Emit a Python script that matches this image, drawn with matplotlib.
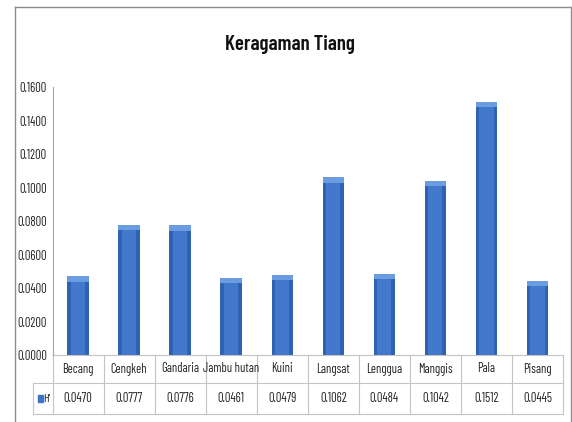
import matplotlib
matplotlib.use("Agg")
import matplotlib.pyplot as plt
from matplotlib import font_manager
from matplotlib.lines import Line2D
from matplotlib.patches import Rectangle
import matplotlib.transforms as mtransforms

categories = ["Becang", "Cengkeh", "Gandaria", "Jambu hutan", "Kuini",
              "Langsat", "Lenggua", "Manggis", "Pala", "Pisang"]
values = [0.0470, 0.0777, 0.0776, 0.0461, 0.0479,
          0.1062, 0.0484, 0.1042, 0.1512, 0.0445]
series_name = "H'"
y_ticks = [0.0, 0.02, 0.04, 0.06, 0.08, 0.10, 0.12, 0.14, 0.16]
title = "Keragaman Tiang"

names = {f.name for f in font_manager.fontManager.ttflist}
main = "Liberation Sans"
for cand in ["Barlow Condensed", "Archivo Narrow", "Asap Condensed"]:
    if cand in names:
        main = cand
        break
plt.rcParams['font.family'] = [main, "DejaVu Sans"]

W, H = 572, 422
fig = plt.figure(figsize=(W / 100, H / 100), dpi=100)
fig.patch.set_facecolor("white")

left, right = 52.5 / W, 563 / W
bottom, top = 1 - 355 / H, 1 - 87.3 / H
ax = fig.add_axes([left, bottom, right - left, top - bottom])
ax.set_xlim(0, len(categories))
ax.set_ylim(0, 0.16)
ax.set_facecolor("white")

x = [i + 0.5 for i in range(len(categories))]
bw = 0.42
ax.bar(x, values, width=bw, color="#2f62b0", edgecolor="none", zorder=2)
ax.bar(x, values, width=bw * 0.66, color="#4379cc", edgecolor="none", zorder=3)
cap = 0.0032
ax.bar(x, [cap] * len(values), bottom=[v - cap for v in values], width=bw,
       color="#6c9ce0", edgecolor="none", zorder=4)

for s in ["top", "right", "bottom"]:
    ax.spines[s].set_visible(False)
ax.spines["left"].set_color("#a6a6a6")
ax.spines["left"].set_linewidth(0.8)
ax.set_xticks([])
ax.set_yticks(y_ticks)
ax.set_yticklabels([f"{t:.4f}" for t in y_ticks], fontsize=9, color="#222222")
ax.tick_params(axis="y", length=0, pad=4)

# data table below the axis
trans = mtransforms.blended_transform_factory(ax.transData, ax.transAxes)
ah = 267.7
r1 = -28 / ah
r2 = -59 / ah
gc = "#c4c4c4"
lw = 0.8
n = len(categories)
key_x = -19.5 / 51.05
ax.add_line(Line2D([key_x, n], [r1, r1], transform=trans, color=gc, lw=lw, clip_on=False))
ax.add_line(Line2D([key_x, n], [r2, r2], transform=trans, color=gc, lw=lw, clip_on=False))
ax.add_line(Line2D([0, n], [0, 0], transform=trans, color=gc, lw=lw, clip_on=False))
for i in range(n + 1):
    ax.add_line(Line2D([i, i], [0, r2], transform=trans, color=gc, lw=lw, clip_on=False))
ax.add_line(Line2D([key_x] * 2, [r1, r2], transform=trans, color=gc, lw=lw, clip_on=False))

for i, (c, v) in enumerate(zip(categories, values)):
    ax.text(i + 0.5, r1 / 2, c, transform=trans, ha="center", va="center",
            fontsize=9, color="#222222", clip_on=False)
    ax.text(i + 0.5, (r1 + r2) / 2, f"{v:.4f}", transform=trans, ha="center",
            va="center", fontsize=9, color="#222222", clip_on=False)

ax.add_patch(Rectangle((-15 / 51.05, (r1 + r2) / 2 - 0.012), 5 / 51.05, 0.024,
                       transform=trans, color="#3c74c7", clip_on=False))
ax.text(-9 / 51.05, (r1 + r2) / 2, series_name, transform=trans, ha="left",
        va="center", fontsize=8.5, color="#222222", clip_on=False)

# chart frame
fc = "#8c8c8c"
fig.add_artist(Line2D([15 / W, 15 / W], [1 - 7 / H, 0], color=fc, lw=1))
fig.add_artist(Line2D([15 / W, 571 / W], [1 - 7 / H, 1 - 7 / H], color=fc, lw=1))
fig.add_artist(Line2D([571 / W, 571 / W], [1 - 7 / H, 0], color=fc, lw=1))

fig.text(290 / W, 1 - 45 / H, title, ha="center", va="center",
         fontsize=15, fontweight="semibold", color="#111111")

fig.savefig("out.png", dpi=100, facecolor="white")
